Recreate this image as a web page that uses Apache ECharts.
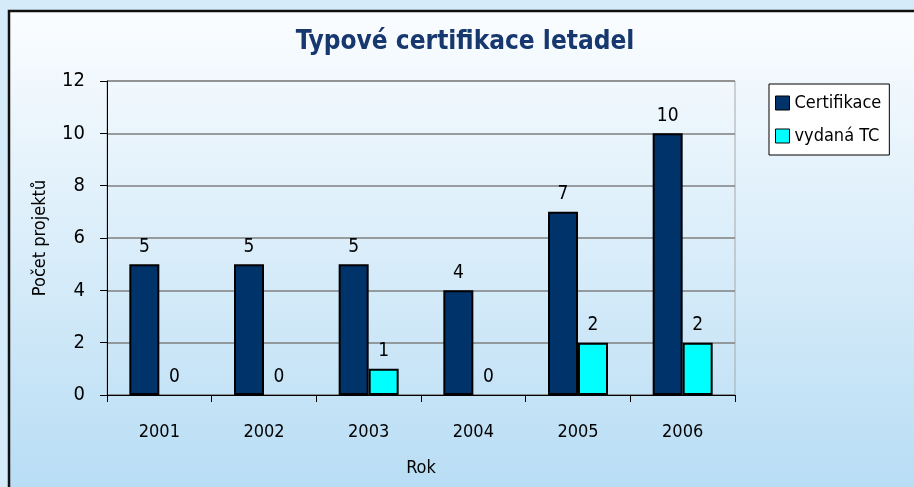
<!DOCTYPE html>
<html>
<head>
<meta charset="utf-8">
<script src="https://cdn.jsdelivr.net/npm/echarts@6/dist/echarts.min.js"></script>
<style>
html, body { margin: 0; padding: 0; }
#chart { width: 914px; height: 487px; }
</style>
</head>
<body>
<div id="chart"></div>
<script>
// data
var years = ['2001', '2002', '2003', '2004', '2005', '2006'];
var certifikace = [5, 5, 5, 4, 7, 10];
var vydanaTC = [0, 0, 1, 0, 2, 2];

var FONT = '"Liberation Sans Narrow", "DejaVu Sans Condensed", sans-serif';

// zero-height bars are drawn without an outline
function barData(values) {
	return values.map(function (v) {
		return { value: v, itemStyle: { borderWidth: v === 0 ? 0 : 2 } };
	});
}

var myChart = echarts.init(document.getElementById('chart'));

var labelStyle = { show: true, position: 'top', distance: 8, fontFamily: FONT, fontSize: 19, color: '#000' };

var chartOption = {
	backgroundColor: '#d6ebfa',
	textStyle: { fontFamily: FONT },
	graphic: [
		{
			type: 'rect',
			z: -10,
			silent: true,
			shape: { x: 9, y: 11, width: 920, height: 490 },
			style: {
				fill: new echarts.graphic.LinearGradient(0, 0, 0, 1, [
					{ offset: 0, color: '#fbfdff' },
					{ offset: 1, color: '#b6dcf4' }
				]),
				stroke: '#111',
				lineWidth: 2.5
			}
		}
	],
	title: {
		text: 'Typové certifikace letadel',
		left: 460,
		textAlign: 'center',
		top: 24,
		textStyle: {
			fontFamily: FONT,
			fontSize: 26,
			fontWeight: 'bold',
			color: '#17386e'
		}
	},
	legend: {
		orient: 'vertical',
		left: 769,
		top: 84,
		padding: [10, 8, 10, 6],
		itemGap: 15,
		itemWidth: 14,
		itemHeight: 14,
		icon: 'rect',
		borderColor: '#000',
		borderWidth: 1,
		backgroundColor: '#ffffff',
		itemStyle: { borderColor: '#000', borderWidth: 1 },
		textStyle: { fontFamily: FONT, fontSize: 18, color: '#000', padding: [0, 0, 0, 0] },
		data: ['Certifikace', 'vydaná TC']
	},
	grid: {
		left: 107,
		top: 81,
		width: 628,
		height: 314,
		show: true,
		borderColor: '#a8a8a8',
		borderWidth: 1,
		backgroundColor: 'transparent'
	},
	xAxis: {
		type: 'category',
		data: years,
		name: 'Rok',
		nameLocation: 'middle',
		nameGap: 64,
		nameTextStyle: { fontFamily: FONT, fontSize: 18, color: '#000' },
		axisLine: { lineStyle: { color: '#000', width: 1 } },
		axisTick: { show: true, length: 7, lineStyle: { color: '#000' } },
		axisLabel: { fontFamily: FONT, fontSize: 18, color: '#000', margin: 28 }
	},
	yAxis: {
		type: 'value',
		min: 0,
		max: 12,
		interval: 2,
		name: 'Počet projektů',
		nameLocation: 'middle',
		nameGap: 58,
		nameRotate: 90,
		nameTextStyle: { fontFamily: FONT, fontSize: 18, color: '#000' },
		axisLine: { show: true, lineStyle: { color: '#000', width: 1 } },
		axisTick: { show: true, length: 7, lineStyle: { color: '#000' } },
		axisLabel: { fontFamily: FONT, fontSize: 20, color: '#000', margin: 22 },
		splitLine: { lineStyle: { color: '#7f7f7f', width: 1.5 } }
	},
	series: [
		{
			name: 'Certifikace',
			type: 'bar',
			data: barData(certifikace),
			barWidth: 30,
			barGap: '0%',
			itemStyle: { color: '#00336a', borderColor: '#000', borderWidth: 2 },
			label: labelStyle
		},
		{
			name: 'vydaná TC',
			type: 'bar',
			data: barData(vydanaTC),
			barWidth: 30,
			barGap: '0%',
			itemStyle: { color: '#00ffff', borderColor: '#000', borderWidth: 2 },
			label: labelStyle
		}
	]
};

myChart.setOption(chartOption);
</script>
</body>
</html>
